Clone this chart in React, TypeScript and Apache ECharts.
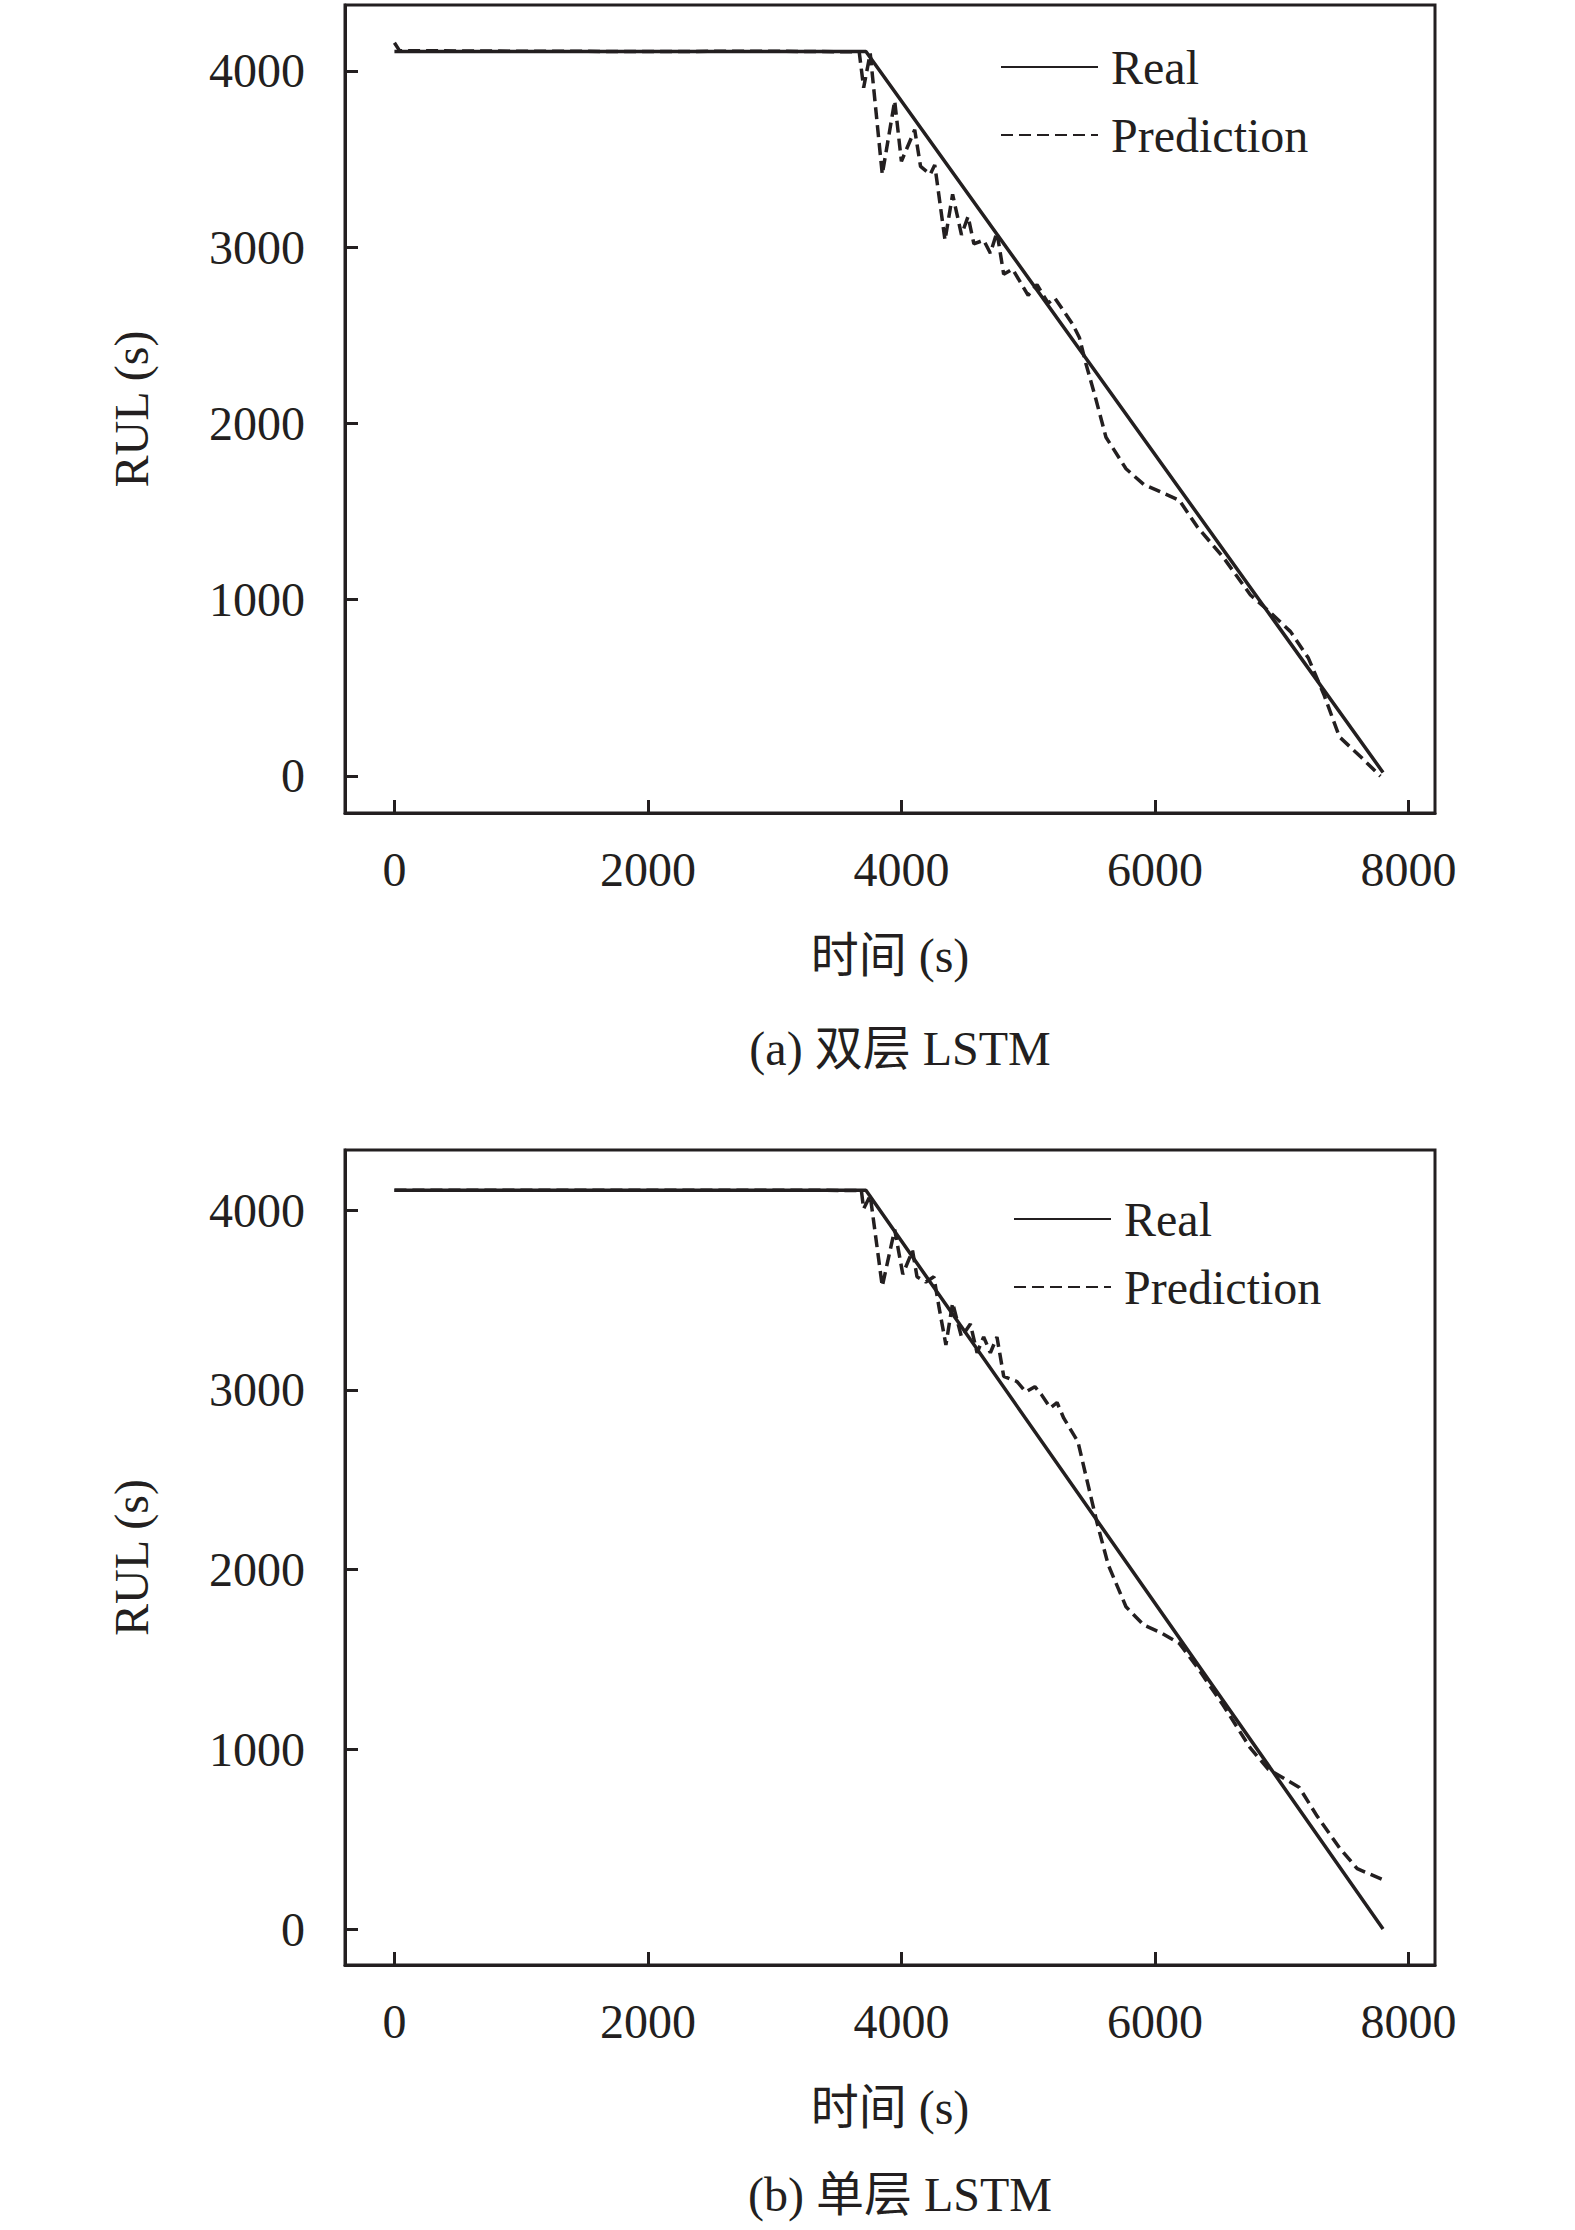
import React, { useEffect, useRef } from "react";
import * as echarts from "echarts";

const xTicks = [0, 2000, 4000, 6000, 8000];
const yTicks = [0, 1000, 2000, 3000, 4000];

const realA = [[0, 4110], [3720, 4110], [7800, 20]];
const predA = [
  [0, 4160], [40, 4115], [1000, 4112], [2000, 4110], [3000, 4112], [3667, 4108],
  [3702, 3905], [3754, 4099], [3849, 3413], [3947, 3830], [4000, 3487], [4105, 3666],
  [4151, 3458], [4228, 3413], [4263, 3467], [4344, 3040], [4404, 3300], [4474, 3070],
  [4526, 3174], [4572, 3019], [4649, 3040], [4702, 2966], [4754, 3085], [4807, 2846],
  [4877, 2876], [5000, 2727], [5070, 2787], [5158, 2682], [5210, 2712], [5351, 2563],
  [5404, 2488], [5456, 2339], [5526, 2160], [5614, 1922], [5772, 1743], [5912, 1654],
  [6053, 1609], [6193, 1564], [6333, 1415], [6544, 1236], [6754, 1027], [6895, 938],
  [7070, 819], [7211, 669], [7334, 461], [7456, 222], [7632, 103], [7779, -1],
];

const realB = [[0, 4110], [3720, 4110], [7800, 0]];
const predB = [
  [0, 4110], [1000, 4110], [2000, 4110], [3000, 4110], [3684, 4109],
  [3702, 4007], [3754, 4080], [3849, 3576], [3947, 3891], [4011, 3643], [4088, 3774],
  [4123, 3629], [4193, 3600], [4256, 3629], [4298, 3454], [4351, 3250], [4404, 3483],
  [4474, 3294], [4544, 3366], [4597, 3206], [4649, 3294], [4702, 3206], [4754, 3294],
  [4807, 3075], [4912, 3046], [4982, 2988], [5053, 3017], [5105, 2973], [5175, 2900],
  [5228, 2929], [5281, 2842], [5393, 2711], [5456, 2521], [5544, 2259], [5632, 2026],
  [5772, 1793], [5912, 1691], [6053, 1647], [6193, 1589], [6333, 1458], [6544, 1239],
  [6754, 1006], [6895, 889], [7035, 831], [7140, 787], [7281, 627], [7456, 452],
  [7596, 336], [7789, 278],
];

const ink = "#231f20";
const font = "'Liberation Serif', 'Times New Roman', 'Noto Sans CJK SC', serif";

const App: React.FC = () => {
  const ref = useRef<HTMLDivElement>(null);

  useEffect(() => {
    document.body.style.margin = "0";
    if (!ref.current) return;
    const chart = echarts.init(ref.current, undefined, { renderer: "svg" });

    const grids = [
      { left: 345, top: 5, width: 1090, height: 808 },
      { left: 345, top: 1150, width: 1090, height: 815 },
    ];
    const yRanges = [[-210, 4374], [-200, 4334]];
    const captions = ["(a) 双层 LSTM", "(b) 单层 LSTM"];

    const xAxis = grids.map((_, i) => ({
      type: "value",
      gridIndex: i,
      min: -390,
      max: 8210,
      name: "时间 (s)",
      nameLocation: "middle",
      nameGap: 118,
      nameTextStyle: { fontFamily: font, fontSize: 48, color: ink },
      axisLine: { onZero: false, lineStyle: { color: ink, width: 3 } },
      axisTick: { inside: true, length: 13, lineStyle: { color: ink, width: 3 }, customValues: xTicks },
      axisLabel: { margin: 32, fontFamily: font, fontSize: 48, color: ink, customValues: xTicks, formatter: (v: number) => String(v) },
      splitLine: { show: false },
    }));
    const yAxis = grids.map((_, i) => ({
      type: "value",
      gridIndex: i,
      min: yRanges[i][0],
      max: yRanges[i][1],
      name: "RUL (s)",
      nameLocation: "middle",
      nameGap: 190,
      nameTextStyle: { fontFamily: font, fontSize: 48, color: ink },
      axisLine: { onZero: false, lineStyle: { color: ink, width: 3 } },
      axisTick: { inside: true, length: 13, lineStyle: { color: ink, width: 3 }, customValues: yTicks },
      axisLabel: { margin: 40, fontFamily: font, fontSize: 48, color: ink, customValues: yTicks, formatter: (v: number) => String(v) },
      splitLine: { show: false },
    }));

    const mk = (name: string, data: number[][], i: number, dashed: boolean) => ({
      name,
      type: "line",
      xAxisIndex: i,
      yAxisIndex: i,
      data,
      symbol: "none",
      lineStyle: { color: ink, width: 3.5, type: dashed ? [12, 6] : "solid" },
      itemStyle: { color: ink },
    });

    chart.setOption({
      animation: false,
      backgroundColor: "#fff",
      grid: grids.map((g) => ({ ...g, show: true, borderColor: ink, borderWidth: 3 })),
      xAxis,
      yAxis,
      legend: [
        { left: 995, top: 38, data: ["Real", "Prediction"] },
        { left: 1008, top: 1190, data: ["Real ", "Prediction "] },
      ].map((l) => ({
        ...l,
        orient: "vertical",
        itemWidth: 97,
        itemHeight: 20,
        itemGap: 20,
        itemStyle: { opacity: 0 },
        textStyle: { fontFamily: font, fontSize: 48, color: ink, padding: [0, 0, 0, 8] },
      })),
      series: [
        mk("Real", realA, 0, false),
        mk("Prediction", predA, 0, true),
        mk("Real ", realB, 1, false),
        mk("Prediction ", predB, 1, true),
      ],
      graphic: [
        { type: "text", x: 900, y: 1024, style: { text: captions[0], font: `48px ${font}`, fill: ink, textAlign: "center" } },
        { type: "text", x: 900, y: 2170, style: { text: captions[1], font: `48px ${font}`, fill: ink, textAlign: "center" } },
      ],
    });

    return () => chart.dispose();
  }, []);

  return <div ref={ref} style={{ width: 1575, height: 2230 }} />;
};

export default App;
